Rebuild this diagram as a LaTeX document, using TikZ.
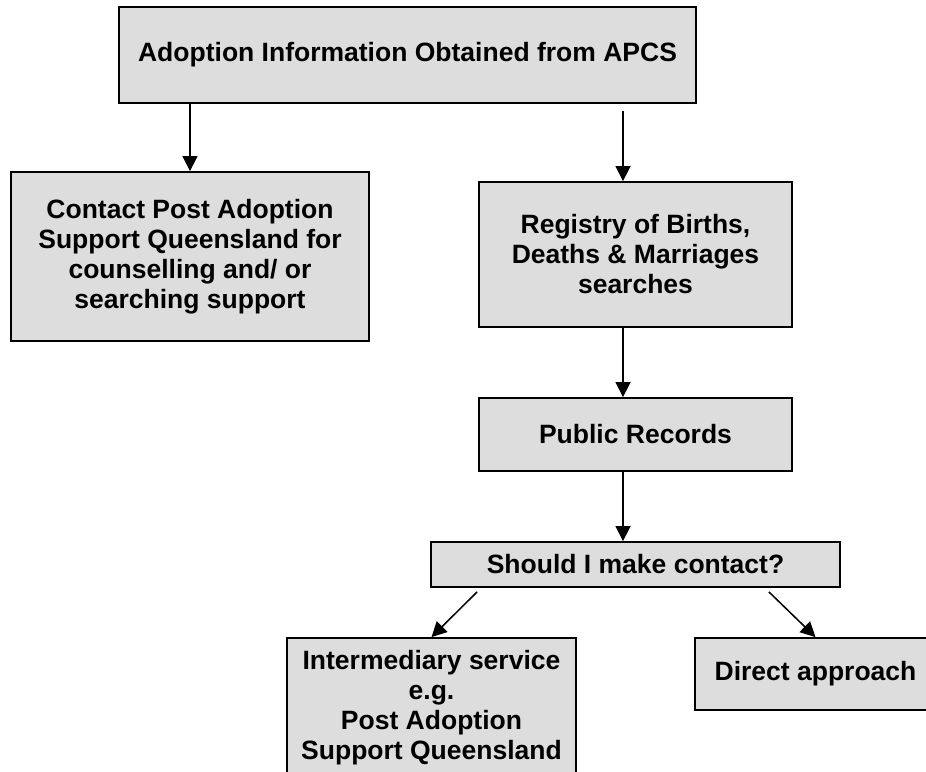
\documentclass[tikz,border=0pt]{standalone}
\usepackage{fontspec}
\setmainfont{Liberation Sans}
\usetikzlibrary{arrows.meta,calc}
\definecolor{boxgray}{RGB}{221,221,221}
\begin{document}
\begin{tikzpicture}[x=1pt,y=-1pt,
  box/.style={draw=black, fill=boxgray, line width=1.8pt, align=center, inner sep=0pt,
    font=\fontsize{26.5}{30}\selectfont\bfseries},
  arr/.style={line width=1.5pt, -{Triangle[length=15pt,width=15pt]}}]
\useasboundingbox (0,0) rectangle (926,771);
\node[box, minimum width=577pt, minimum height=96pt] (top) at (407.5,55)
  {Adoption Information Obtained from APCS};
\node[box, minimum width=358pt, minimum height=169pt] (contact) at (190,256.5)
  {Contact Post Adoption\\Support Queensland for\\counselling and/ or\\searching support};
\node[box, minimum width=313pt, minimum height=145pt] (registry) at (635.5,254.5)
  {Registry of Births,\\Deaths \& Marriages\\searches};
\node[box, minimum width=313pt, minimum height=73pt] (public) at (635.5,434.5)
  {Public Records};
\node[box, minimum width=409pt, minimum height=45pt] (should) at (635.5,564.5)
  {Should I make contact?};
\node[box, minimum width=289pt, minimum height=140pt] (inter) at (431.5,708)
  {Intermediary service\\e.g.\\Post Adoption\\Support Queensland};
\node[box, minimum width=241pt, minimum height=72pt] (direct) at (815.5,674)
  {Direct approach};
\coordinate (cx) at (623,0);
\draw[arr] (contact.north |- top.south) -- (contact.north);
\draw[arr] ($(cx |- top.south)+(0,7)$) -- (cx |- registry.north);
\draw[arr] (cx |- registry.south) -- (cx |- public.north);
\draw[arr] (cx |- public.south) -- (cx |- should.north);
\draw[arr] ($(should.south west)+(47,4)$) -- (inter.north);
\draw[arr] ($(should.south east)+(-72,4)$) -- (direct.north);
\end{tikzpicture}
\end{document}
